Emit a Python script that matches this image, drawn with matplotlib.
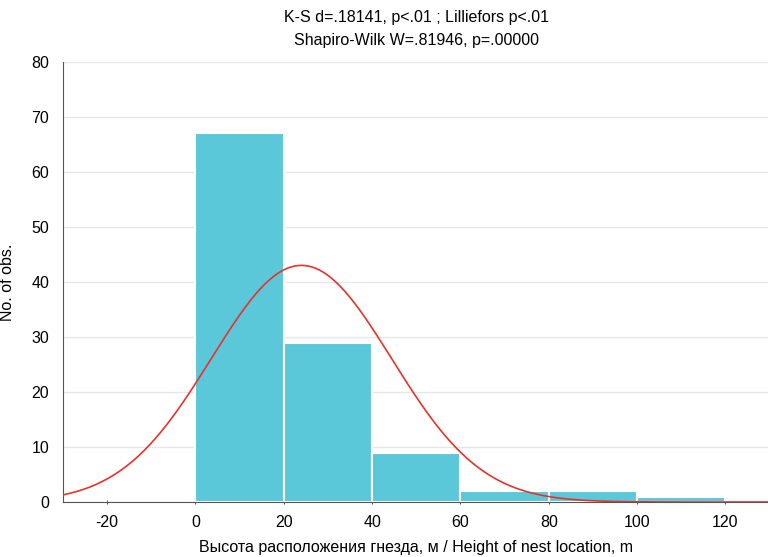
import numpy as np
import matplotlib.pyplot as plt

plt.rcParams['font.family'] = ['Liberation Sans', 'DejaVu Sans']
plt.rcParams['axes.unicode_minus'] = False

# histogram of nest heights
bin_edges = [0, 20, 40, 60, 80, 100, 120]
counts = [67, 29, 9, 2, 2, 1]

# fitted normal
fit_mean = 24.0
fit_sd = 20.4

title = "K-S d=.18141, p<.01 ; Lilliefors p<.01\nShapiro-Wilk W=.81946, p=.00000"
xlabel = "Высота расположения гнезда, м / Height of nest location, m"
ylabel = "No. of obs."

fig = plt.figure(figsize=(7.68, 5.57), dpi=100)
ax = fig.add_axes([0.082, 0.0987, 0.92, 0.790])

widths = np.diff(bin_edges)
ax.bar(bin_edges[:-1], counts, width=widths, align='edge',
       color='#5bc8da', edgecolor='white', linewidth=1.5, zorder=2)

n = sum(counts)
bw = widths[0]
xs = np.linspace(-30, 130, 400)
ys = n * bw / (fit_sd * np.sqrt(2 * np.pi)) * np.exp(-0.5 * ((xs - fit_mean) / fit_sd) ** 2)
ax.plot(xs, ys, color='#e8322c', linewidth=1.2, zorder=3)

ax.set_xlim(-30, 130)
ax.set_ylim(0, 80)
ax.set_xticks(np.arange(-20, 121, 20))
ax.set_yticks(np.arange(0, 81, 10))
ax.yaxis.grid(True, color='#e6e6e6', linewidth=1, zorder=0)
ax.set_axisbelow(True)

for s in ['top', 'right']:
    ax.spines[s].set_visible(False)
ax.spines['left'].set_color('#555555')
ax.spines['bottom'].set_color('#555555')
ax.tick_params(axis='y', length=0, labelsize=11.5, pad=10)
ax.tick_params(axis='x', length=3, color='#555555', labelsize=11.5, pad=8, direction='inout')

ax.text(0.5, 1.0 + 33 / 440, title, transform=ax.transAxes, ha='center', va='center',
        fontsize=11.5, linespacing=1.6)
ax.set_xlabel(xlabel, fontsize=11.5, labelpad=7)
ax.set_ylabel(ylabel, fontsize=11.5, labelpad=12)

fig.savefig('out.png', dpi=100)
